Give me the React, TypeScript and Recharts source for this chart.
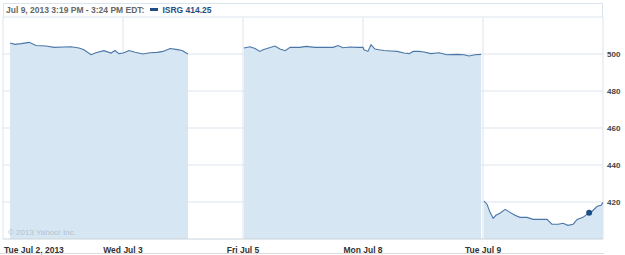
import React from 'react';
import { AreaChart, Area, XAxis, YAxis, CartesianGrid, ReferenceDot } from 'recharts';

// minutes after the open, per session, and the ISRG price
const jul2Times = [23, 39, 59, 85, 107, 140, 166, 198, 221, 247, 263, 286, 302, 328, 351, 364, 377, 390];
const jul2Prices = [505.9, 505.2, 505.6, 506.3, 504.6, 504.3, 503.6, 503.8, 503.9, 503.2, 502.3, 499.6, 500.7, 501.8, 500.5, 501.9, 500.2, 500.5];
const jul3Times = [3, 20, 39, 65, 88, 111, 130, 153, 172, 192, 211];
const jul3Prices = [500.7, 501.9, 500.9, 500.0, 500.7, 500.9, 501.4, 503.0, 502.5, 501.9, 500.0];
const jul5Times = [3, 23, 39, 55, 65, 78, 104, 120, 137, 153, 185, 205, 234, 267, 293, 309, 325, 348, 371, 390];
const jul5Prices = [503.2, 503.9, 503.0, 501.4, 502.3, 503.0, 504.3, 502.7, 501.8, 503.6, 503.6, 504.1, 503.6, 503.6, 503.6, 504.6, 503.4, 503.8, 503.6, 503.6];
const jul8Times = [3, 16, 26, 39, 52, 68, 91, 111, 133, 150, 163, 182, 198, 221, 247, 273, 306, 328, 345, 364, 384];
const jul8Prices = [502.3, 501.4, 505.0, 502.7, 502.3, 501.9, 501.6, 501.4, 500.5, 500.2, 501.4, 501.4, 501.1, 500.2, 500.7, 499.6, 499.8, 499.6, 498.9, 499.6, 499.8];
const jul9Times = [3, 13, 23, 33, 42, 55, 72, 88, 104, 120, 143, 163, 185, 208, 224, 244, 260, 276, 293, 306, 325, 345, 354, 371, 384, 390];
const jul9Prices = [420.5, 418.8, 414.4, 411.2, 412.8, 413.9, 416.0, 414.4, 412.8, 411.7, 411.7, 410.6, 410.6, 410.6, 408.0, 408.0, 408.5, 407.4, 408.0, 410.6, 411.7, 414.25, 414.9, 417.7, 418.2, 419.8];

const dayLabels = ['Tue Jul 2, 2013', 'Wed Jul 3', 'Fri Jul 5', 'Mon Jul 8', 'Tue Jul 9'];
const priceTicks = [420, 440, 460, 480, 500, 520];
const lastQuote = { time: 345, price: 414.25 };

const SESSION = 390;

// session slot index, times, prices, which unbroken segment it belongs to
const sessions: [number, number[], number[], string][] = [
  [0, jul2Times, jul2Prices, 'a'],
  [1, jul3Times, jul3Prices, 'a'],
  [2, jul5Times, jul5Prices, 'b'],
  [3, jul8Times, jul8Prices, 'b'],
  [4, jul9Times, jul9Prices, 'c'],
];

const data = sessions.flatMap(([slot, times, prices, seg]) =>
  times.map((t, i) => ({ t: slot * SESSION + t, [seg]: prices[i] }))
);

const dayTicks = dayLabels.map((_, i) => i * SESSION).concat(dayLabels.length * SESSION);

const FONT = '"Liberation Sans", Arial, sans-serif';
const LINE = '#4a76a8';
const FILL = '#d6e6f2';
const GRID = '#dce5ed';

const DayTick = (props: any) => {
  const { x, y, index } = props;
  const label = dayLabels[index];
  if (!label) return null;
  return (
    <text x={index === 0 ? x + 1 : x} y={y + 6} textAnchor={index === 0 ? 'start' : 'middle'}
      fontFamily={FONT} fontSize={8.5} fontWeight="bold" fill="#333">
      {label}
    </text>
  );
};

const PriceTick = (props: any) => {
  const { x, y, payload } = props;
  if (payload.value === 520) return null;
  return (
    <text x={x + 2} y={y + 3} textAnchor="start" fontFamily={FONT} fontSize={8} fontWeight="bold" fill="#444">
      {payload.value}
    </text>
  );
};

export default function App() {
  return (
    <div style={{ position: 'absolute', left: 0, top: 0, width: 625, height: 255, background: '#fff', fontFamily: FONT }}>
      <div style={{ position: 'absolute', left: 3, top: 3, width: 598, height: 14, border: `1px solid ${GRID}`, borderBottom: 'none' }} />
      <div style={{ position: 'absolute', left: 6, top: 4, fontSize: 8.5, fontWeight: 'bold', lineHeight: '13px', whiteSpace: 'nowrap' }}>
        <span style={{ color: '#666' }}>Jul 9, 2013 3:19 PM - 3:24 PM EDT:</span>
        <span style={{ display: 'inline-block', width: 8, height: 3, background: '#1f4e85', margin: '0 4px 2px 6px' }} />
        <span style={{ color: '#1f4e85' }}>ISRG 414.25</span>
      </div>
      <AreaChart width={625} height={255} data={data} margin={{ top: 17, right: 0, left: 3, bottom: 0 }}>
        <CartesianGrid stroke={GRID} horizontalValues={priceTicks} verticalValues={dayTicks} />
        <XAxis dataKey="t" type="number" domain={[0, dayTicks[dayTicks.length - 1]]} ticks={dayTicks}
          height={16} axisLine={{ stroke: '#c9d4dd' }} tickLine={false} tick={<DayTick />} interval={0} />
        <YAxis orientation="right" type="number" domain={[400, 520]} ticks={priceTicks} width={22}
          axisLine={false} tickLine={false} tickSize={0} tickMargin={2} tick={<PriceTick />} interval={0} />
        {['a', 'b', 'c'].map((k) => (
          <Area key={k} type="linear" dataKey={k} stroke={LINE} strokeWidth={1.1} fill={FILL} fillOpacity={1}
            dot={false} activeDot={false} isAnimationActive={false} />
        ))}
        <ReferenceDot x={4 * SESSION + lastQuote.time} y={lastQuote.price} r={3} fill="#1f4e85" stroke="none" />
      </AreaChart>
      <div style={{ position: 'absolute', left: 8, top: 228, fontSize: 8, color: '#b4c2ce', pointerEvents: 'none' }}>
        © 2013 Yahoo! Inc.
      </div>
      <div style={{ position: 'absolute', left: 0, top: 253, width: 604, height: 1, background: '#dcdcdc' }} />
    </div>
  );
}
